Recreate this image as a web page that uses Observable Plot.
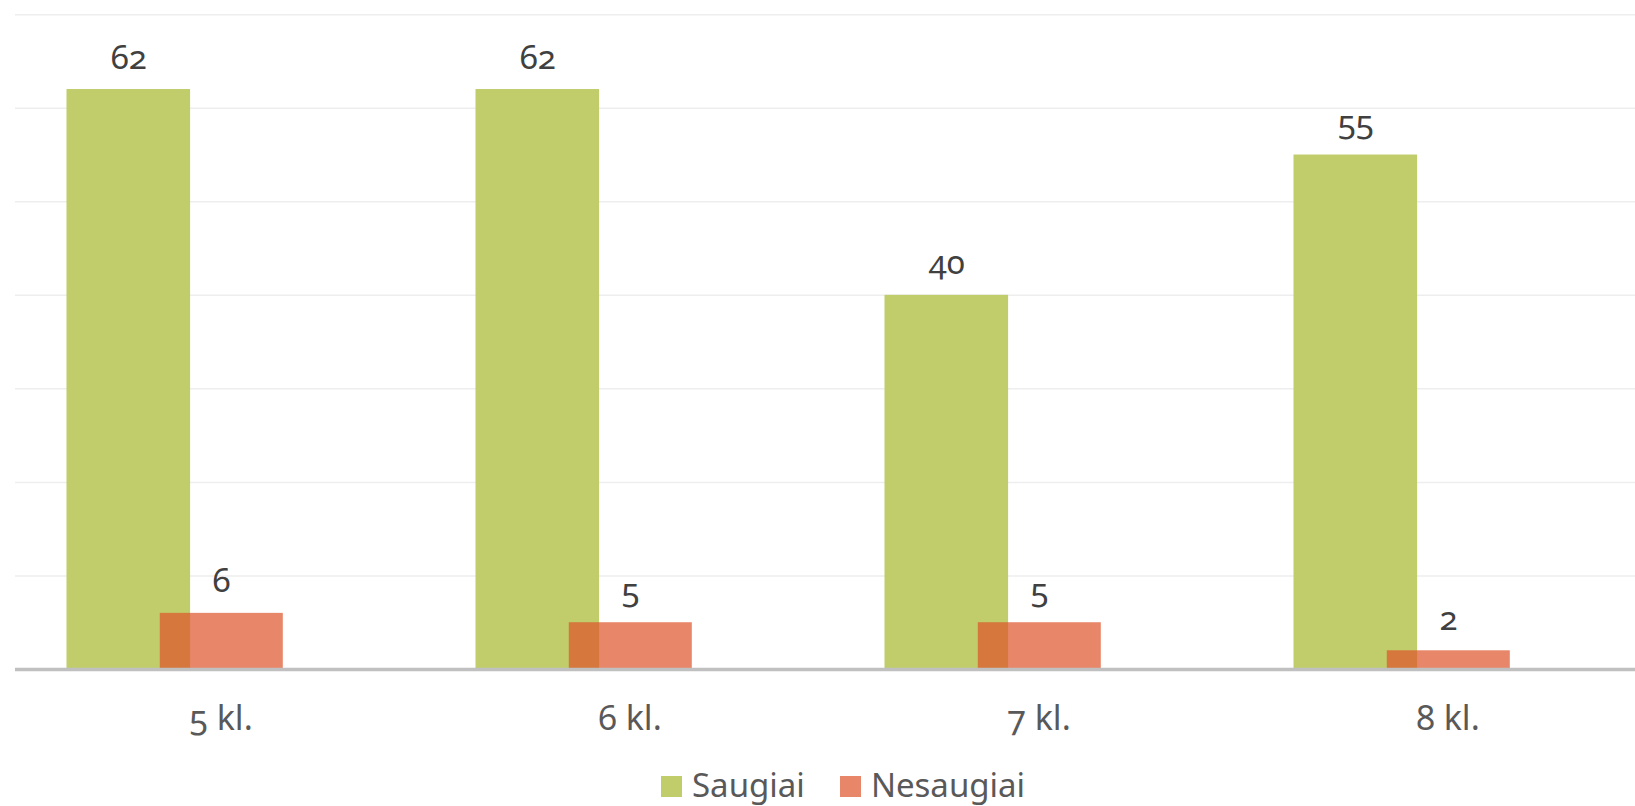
<!DOCTYPE html>
<html>
<head>
<meta charset="utf-8">
<script src="https://cdn.jsdelivr.net/npm/d3@7"></script>
<script src="https://cdn.jsdelivr.net/npm/@observablehq/plot@0.6"></script>
<style>
  html, body { margin: 0; padding: 0; background: #fff; overflow: hidden; }
  body { width: 1635px; height: 806px; position: relative; font-family: "Noto Sans", sans-serif; font-variant-numeric: oldstyle-nums; }
  #chart svg { font-family: "Noto Sans", sans-serif; font-variant-numeric: oldstyle-nums; }
  #legend { position: absolute; left: 661px; top: 768px; font-size: 33px; line-height: 33px; color: #595959; white-space: nowrap; }
  #legend .item { display: inline-block; margin-right: 35px; }
  #legend .sw { display: inline-block; width: 21px; height: 21px; margin-right: 10px; vertical-align: baseline; }
</style>
</head>
<body>
<div id="chart"></div>
<div id="legend"></div>
<script>
const categories = ["5 kl.", "6 kl.", "7 kl.", "8 kl."];
const saugiai = [62, 62, 40, 55];
const nesaugiai = [6, 5, 5, 2];
const seriesNames = ["Saugiai", "Nesaugiai"];
const seriesColors = ["#c1cc6b", "#e8866a"];
const gridTicks = [10, 20, 30, 40, 50, 60, 70];

const dataS = categories.map((c, i) => ({cat: c, v: saugiai[i]}));
const dataN = categories.map((c, i) => ({cat: c, v: nesaugiai[i]}));

const chart = Plot.plot({
  width: 1635,
  height: 760,
  marginTop: 14.2,
  marginBottom: 91,
  marginLeft: 15,
  marginRight: 0,
  x: {type: "band", domain: categories, range: [14.2, 1653.0], padding: 0, axis: null},
  y: {domain: [0, 70], axis: null},
  marks: [
    Plot.ruleY(gridTicks, {stroke: "#eeeeee", strokeWidth: 1.5}),
    Plot.barY(dataS, {x: "cat", y: "v", fill: "#c1cc6b", insetLeft: 50.5, insetRight: 234.9}),
    Plot.barY(dataN, {x: "cat", y: "v", fill: "rgb(222,82,42)", fillOpacity: 0.7, insetLeft: 143.8, insetRight: 142.2}),
    Plot.ruleY([0], {stroke: "#c0c0c0", strokeWidth: 3.5}),
    Plot.text(dataS, {x: "cat", y: "v", text: d => String(d.v), dx: -92.2, dy: -21, lineAnchor: "bottom", fontSize: 33, fill: "#404040"}),
    Plot.text(dataN, {x: "cat", y: "v", text: d => String(d.v), dx: 0.5, dy: -21, lineAnchor: "bottom", fontSize: 33, fill: "#404040"}),
    Plot.text(categories, {x: d => d, frameAnchor: "bottom", lineAnchor: "bottom", dy: 60, text: d => d, fontSize: 34, fill: "#595959"})
  ]
});
document.getElementById("chart").appendChild(chart);

const legend = document.getElementById("legend");
seriesNames.forEach((name, i) => {
  const item = document.createElement("span");
  item.className = "item";
  const sw = document.createElement("span");
  sw.className = "sw";
  sw.style.background = seriesColors[i];
  item.appendChild(sw);
  item.appendChild(document.createTextNode(name));
  legend.appendChild(item);
});
</script>
</body>
</html>
